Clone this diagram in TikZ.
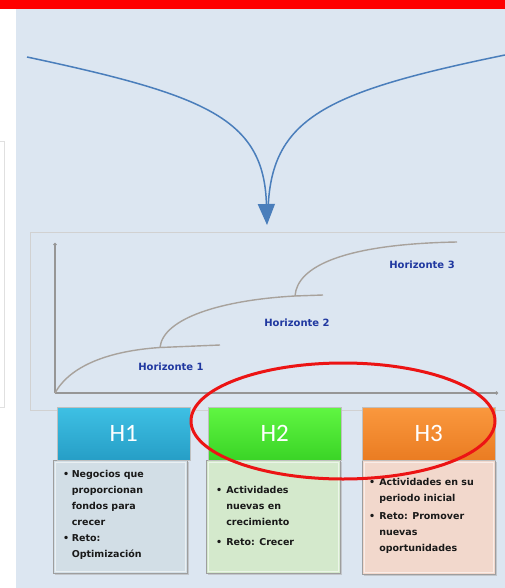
\documentclass[tikz,border=0pt]{standalone}
\usepackage{fontspec}
\setmainfont{DejaVu Sans}
\newfontfamily\hfont{Carlito}
\usetikzlibrary{arrows.meta}
\definecolor{bgc}{RGB}{220,230,241}
\definecolor{redbar}{RGB}{255,0,0}
\definecolor{arrc}{RGB}{74,126,187}
\definecolor{axc}{RGB}{150,150,150}
\definecolor{curvc}{RGB}{168,162,156}
\definecolor{labc}{RGB}{32,56,160}
\definecolor{hAt}{RGB}{62,192,228}\definecolor{hAb}{RGB}{38,158,198}
\definecolor{hBt}{RGB}{96,246,66}\definecolor{hBb}{RGB}{58,212,38}
\definecolor{hCt}{RGB}{250,152,62}\definecolor{hCb}{RGB}{234,124,34}
\definecolor{bA}{RGB}{210,222,230}
\definecolor{bB}{RGB}{212,233,204}
\definecolor{bC}{RGB}{242,216,204}
\definecolor{ellc}{RGB}{236,20,20}
\definecolor{txtc}{RGB}{25,25,25}
\tikzset{
  hdrbox/.style={anchor=north west, inner sep=0pt, minimum width=133pt, minimum height=53pt,
    text=white, font=\hfont\fontsize{25}{25}\selectfont, draw=black!25, line width=0.5pt},
  bodybox/.style={anchor=north west, inner sep=0pt, minimum width=134pt, minimum height=113pt,
    draw=black!38, line width=1pt},
  bodytxt/.style={anchor=base west, inner sep=0pt, text=txtc, font=\bfseries\fontsize{9.5}{16}\selectfont},
  horlab/.style={inner sep=0pt, text=labc, font=\bfseries\fontsize{10}{12}\selectfont},
  gcurve/.style={draw=curvc, line width=1.4pt},
  axis/.style={draw=axc, line width=1.5pt, -{Circle[length=3pt]}},
  arrline/.style={draw=arrc, line width=1.5pt},
  shadowbox/.style={fill=black!30, opacity=0.6}
}
\newcommand{\bl}{\textbullet}
\begin{document}
\begin{tikzpicture}[x=1pt,y=-1pt]
\useasboundingbox (0,0) rectangle (505,588);
\fill[white] (0,0) rectangle (505,588);
\fill[bgc] (16,9) rectangle (505,588);
\fill[redbar] (0,0) rectangle (505,9);
% left panel border
\draw[black!12, line width=0.8pt] (0,141) -- (4,141) -- (4,407) -- (0,407);
% chart frame
\draw[black!18, line width=0.6pt] (505,232) -- (30,232) -- (30,410) -- (505,410);
% converging arrow
\coordinate (ls) at (27,57);
\coordinate (rs) at (505,55);
\coordinate (tip) at (267,225);
\draw[arrline, -{Triangle[width=17pt,length=21pt]}] (ls) .. controls (205,95) and (264,118) .. (tip);
\draw[arrline] (rs) .. controls (325,92) and (270,118) .. (268,212);
% axes
\coordinate (o) at (55,393);
\coordinate (ytop) at (55,243);
\coordinate (xend) at (498,393);
\draw[axis] (o) -- (ytop);
\draw[axis] (o) -- (xend);
% growth curves
\coordinate (p1) at (160,347.5);
\coordinate (e1) at (220,345);
\coordinate (p2) at (295,296);
\coordinate (e2) at (323,295);
\coordinate (e3) at (457,242);
\draw[gcurve] (o) .. controls (70,366) and (108,351) .. (p1) -- (e1);
\draw[gcurve] (p1) .. controls (163,318) and (222,300) .. (p2) -- (e2);
\draw[gcurve] (p2) .. controls (297,266) and (345,244) .. (e3);
\node[horlab] (l1) at (171,367) {Horizonte 1};
\node[horlab] (l2) at (297,323) {Horizonte 2};
\node[horlab] (l3) at (422,265) {Horizonte 3};
% bodies
\fill[shadowbox] (55,462) rectangle (189,575);
\fill[shadowbox] (208,462) rectangle (342,575);
\fill[shadowbox] (364,462) rectangle (497,576);
\node[bodybox, fill=bA] (b1) at (53,460) {};
\node[bodybox, fill=bB] (b2) at (206,460) {};
\node[bodybox, fill=bC, minimum width=133pt, minimum height=114pt] (b3) at (362,460) {};
\draw[white, opacity=0.55, line width=1.2pt] ([shift={(2.5pt,-2.5pt)}]b1.north west) rectangle ([shift={(-2.5pt,2.5pt)}]b1.south east);
\draw[white, opacity=0.55, line width=1.2pt] ([shift={(2.5pt,-2.5pt)}]b2.north west) rectangle ([shift={(-2.5pt,2.5pt)}]b2.south east);
\draw[white, opacity=0.55, line width=1.2pt] ([shift={(2.5pt,-2.5pt)}]b3.north west) rectangle ([shift={(-2.5pt,2.5pt)}]b3.south east);
% headers
\node[hdrbox, top color=hAt, bottom color=hAb] (h1) at (57,407) {H1};
\node[hdrbox, top color=hBt, bottom color=hBb] (h2) at (208,407) {H2};
\node[hdrbox, top color=hCt, bottom color=hCb] (h3) at (362,407) {H3};
% texts
\node[bodytxt] (t1) at (63,477) {\begin{tabular}[t]{@{}l@{\hspace{2.5pt}}l@{}}
\bl & Negocios que\\ & proporcionan\\ & fondos para\\ & crecer\\
\bl & Reto:\\ & Optimización\end{tabular}};
\node[bodytxt] (t2) at (216,493) {\begin{tabular}[t]{@{}l@{\hspace{4pt}}l@{}}
\bl & Actividades\\ & nuevas en\\ & crecimiento\\[4pt]
\bl & Reto: Crecer\end{tabular}};
\node[bodytxt] (t3) at (369,485) {\begin{tabular}[t]{@{}l@{\hspace{4pt}}l@{}}
\bl & Actividades en su\\ & periodo inicial\\[2pt]
\bl & Reto: Promover\\ & nuevas\\ & oportunidades\end{tabular}};
% red ellipse
\coordinate (ellctr) at (343,421);
\draw[ellc, line width=3pt] (ellctr) ellipse [x radius=152pt, y radius=58pt];
\end{tikzpicture}
\end{document}
